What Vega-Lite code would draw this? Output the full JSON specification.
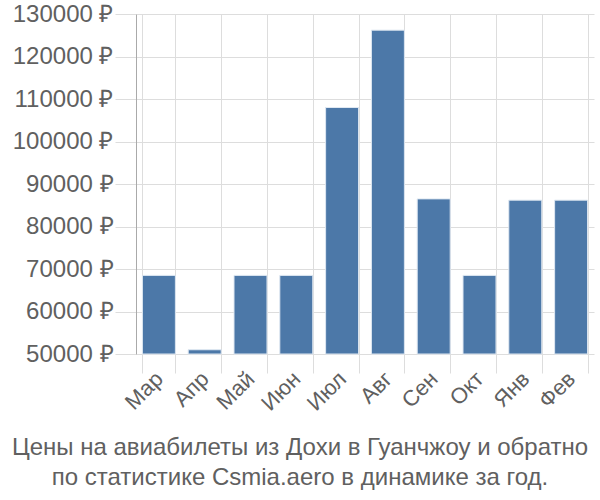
{
  "$schema": "https://vega.github.io/schema/vega-lite/v6.json",
  "autosize": "none",
  "width": 458,
  "height": 340,
  "padding": {"left": 136, "top": 14, "right": 6, "bottom": 146},
  "background": "white",
  "data": {"values": [
    {"month": "Мар", "price": 68500},
    {"month": "Апр", "price": 51000},
    {"month": "Май", "price": 68500},
    {"month": "Июн", "price": 68500},
    {"month": "Июл", "price": 108000},
    {"month": "Авг", "price": 126200},
    {"month": "Сен", "price": 86500},
    {"month": "Окт", "price": 68500},
    {"month": "Янв", "price": 86200},
    {"month": "Фев", "price": 86200}
  ]},
  "title": {
    "text": ["Цены на авиабилеты из Дохи в Гуанчжоу и обратно", "по статистике Csmia.aero в динамике за год."],
    "orient": "bottom",
    "anchor": "middle",
    "font": "Liberation Sans",
    "fontSize": 24,
    "fontWeight": "normal",
    "color": "#606060",
    "lineHeight": 30,
    "offset": 22,
    "dx": -65
  },
  "mark": {"type": "bar", "color": "#4c78a8", "stroke": "#dfe8f2", "strokeWidth": 1},
  "encoding": {
    "x": {
      "field": "month", "type": "nominal", "sort": null,
      "scale": {"paddingInner": 0.28, "paddingOuter": 0.14},
      "axis": {
        "title": null, "labelAngle": -45, "labelAlign": "right", "labelBaseline": "middle",
        "labelFont": "Liberation Sans", "labelFontSize": 22, "labelColor": "#606060",
        "domain": false, "ticks": true, "tickSize": 19, "tickColor": "#dddddd", "tickBand": "extent",
        "grid": true, "gridColor": "#dddddd", "labelPadding": 2
      }
    },
    "y": {
      "field": "price", "type": "quantitative",
      "scale": {"domain": [50000, 130000], "zero": false, "nice": false, "clamp": true},
      "axis": {
        "title": null, "values": [50000, 60000, 70000, 80000, 90000, 100000, 110000, 120000, 130000],
        "labelExpr": "format(datum.value, 'd') + ' ₽'",
        "labelFont": "Liberation Sans", "labelFontSize": 24, "labelColor": "#606060",
        "domain": true, "domainColor": "#aaaaaa", "tickColor": "#dddddd", "tickSize": 21,
        "gridColor": "#dddddd", "labelPadding": 2
      }
    }
  },
  "config": {"view": {"stroke": null}}
}
